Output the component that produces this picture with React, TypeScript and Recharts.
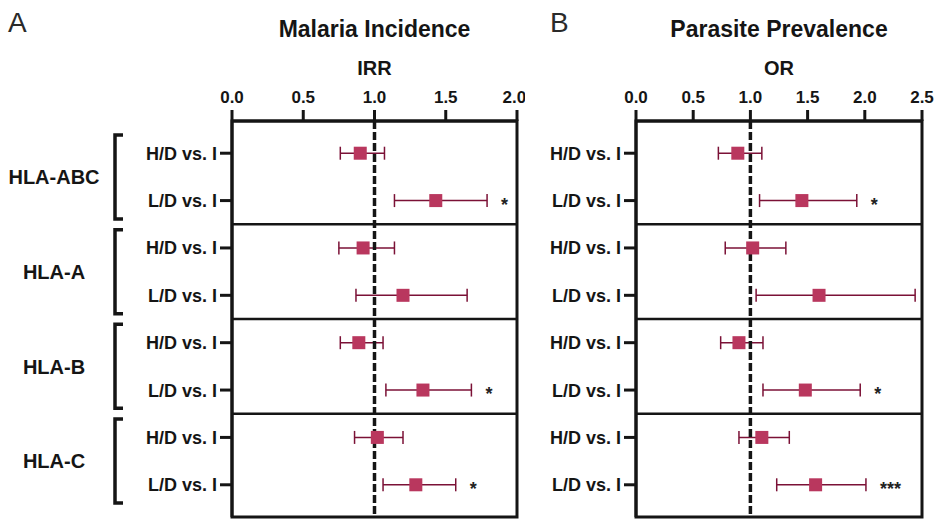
import React from 'react';
import {
  ScatterChart,
  Scatter,
  XAxis,
  YAxis,
  ErrorBar,
  ReferenceLine,
  ReferenceArea,
  Label,
} from 'recharts';

// rows, top to bottom
const rowLabels = [
  'H/D vs. I', 'L/D vs. I',
  'H/D vs. I', 'L/D vs. I',
  'H/D vs. I', 'L/D vs. I',
  'H/D vs. I', 'L/D vs. I',
];
const groupLabels = ['HLA-ABC', 'HLA-A', 'HLA-B', 'HLA-C'];

// A: malaria incidence (IRR)
const irrEstimate = [0.9, 1.43, 0.92, 1.2, 0.89, 1.34, 1.02, 1.29];
const irrLower = [0.76, 1.14, 0.75, 0.87, 0.76, 1.08, 0.86, 1.06];
const irrUpper = [1.07, 1.79, 1.14, 1.65, 1.06, 1.68, 1.2, 1.57];
const irrSig = ['', '*', '', '', '', '*', '', '*'];
const irrTicks = [0, 0.5, 1, 1.5, 2];

// B: parasite prevalence (OR)
const orEstimate = [0.89, 1.45, 1.02, 1.6, 0.9, 1.48, 1.1, 1.57];
const orLower = [0.72, 1.08, 0.78, 1.05, 0.74, 1.11, 0.9, 1.23];
const orUpper = [1.1, 1.93, 1.31, 2.44, 1.11, 1.96, 1.34, 2.01];
const orSig = ['', '*', '', '', '', '*', '', '***'];
const orTicks = [0, 0.5, 1, 1.5, 2, 2.5];

const FONT = '"Liberation Sans", Arial, Helvetica, sans-serif';
const INK = '#151515';
const PLOT_TOP = 121;
const PLOT_BOTTOM = 517;
const Y_MIN = -0.68;
const Y_MAX = 7.68;
const ROW_PX = (PLOT_BOTTOM - PLOT_TOP) / (Y_MAX - Y_MIN);

function buildRows(est: number[], lo: number[], hi: number[], sig: string[]) {
  return est.map((v, i) => ({
    x: v,
    y: i,
    err: [v - lo[i], hi[i] - v],
    hi: hi[i],
    sig: sig[i],
  }));
}

const Square = (p: any) => (
  <rect x={p.cx - 6.5} y={p.cy - 6.5} width={13} height={13} fill="#b9375e" />
);

const Stars = (p: any) => (
  <text x={p.cx + 14} y={p.cy + 10} fontSize={18} fontWeight={700} fill="#222">
    {p.payload.sig}
  </text>
);

function RowTick(props: any) {
  const { x, y, payload, showGroups } = props;
  const i = payload.value as number;
  const groupMid = y + ROW_PX / 2;
  const bx = x - 102;
  return (
    <g>
      <text x={x} y={y} dy="0.36em" textAnchor="end" fontSize={18} fontWeight={700} fill={INK}>
        {rowLabels[i]}
      </text>
      {showGroups && i % 2 === 0 && (
        <g>
          <path
            d={`M${bx + 8},${groupMid - 42} H${bx} V${groupMid + 42} H${bx + 8}`}
            fill="none"
            stroke={INK}
            strokeWidth={3.5}
          />
          <text
            x={x - 163}
            y={groupMid}
            dy="0.36em"
            textAnchor="middle"
            fontSize={20}
            fontWeight={700}
            fill={INK}
          >
            {groupLabels[i / 2]}
          </text>
        </g>
      )}
    </g>
  );
}

type PanelProps = {
  left: number;
  width: number;
  yWidth: number;
  marginRight: number;
  max: number;
  ticks: number[];
  axisLabel: string;
  title: string;
  rows: ReturnType<typeof buildRows>;
  showGroups: boolean;
};

function ForestPanel({ left, width, yWidth, marginRight, max, ticks, axisLabel, title, rows, showGroups }: PanelProps) {
  const starred = rows.filter((r) => r.sig);
  return (
    <div style={{ position: 'absolute', left, top: 0 }}>
      <ScatterChart
        width={width}
        height={519}
        margin={{ top: PLOT_TOP - 40, right: marginRight, bottom: 519 - PLOT_BOTTOM, left: 0 }}
      >
        <XAxis
          type="number"
          dataKey="x"
          orientation="top"
          height={40}
          domain={[0, max]}
          allowDataOverflow
          ticks={ticks}
          tickFormatter={(v: number) => v.toFixed(1)}
          tickSize={11}
          tickMargin={7}
          axisLine={{ stroke: INK, strokeWidth: 3 }}
          tickLine={{ stroke: INK, strokeWidth: 3 }}
          tick={{ fontSize: 17, fontWeight: 700, fill: INK }}
        >
          <Label value={axisLabel} position="top" offset={6} fontSize={20} fontWeight={700} fill={INK} />
          <Label value={title} position="top" offset={44} fontSize={23} fontWeight={700} fill={INK} />
        </XAxis>
        <YAxis
          type="number"
          dataKey="y"
          width={yWidth}
          reversed
          domain={[Y_MIN, Y_MAX]}
          allowDataOverflow
          ticks={[0, 1, 2, 3, 4, 5, 6, 7]}
          tickSize={12}
          tickMargin={3}
          axisLine={{ stroke: INK, strokeWidth: 3 }}
          tickLine={{ stroke: INK, strokeWidth: 3 }}
          tick={(p: any) => <RowTick {...p} showGroups={showGroups} />}
        />
        <ReferenceArea x1={0} x2={max} y1={Y_MIN} y2={Y_MAX} fill="none" stroke={INK} strokeWidth={3} />
        {[1.5, 3.5, 5.5].map((v) => (
          <ReferenceLine key={v} y={v} stroke={INK} strokeWidth={2.5} />
        ))}
        <Scatter data={rows} shape={Square} isAnimationActive={false}>
          <ErrorBar dataKey="err" direction="x" width={6.5} stroke="#7b1136" strokeWidth={1.5} />
        </Scatter>
        <Scatter
          data={starred.map((r) => ({ x: r.hi, y: r.y, sig: r.sig }))}
          shape={Stars}
          isAnimationActive={false}
        />
        <ReferenceLine x={1} stroke={INK} strokeWidth={3.5} strokeDasharray="8 3" />
      </ScatterChart>
    </div>
  );
}

const panelLetter = (text: string, left: number) => (
  <div
    style={{
      position: 'absolute',
      left,
      top: 9,
      fontSize: 28,
      lineHeight: '28px',
      color: '#2a2a2a',
    }}
  >
    {text}
  </div>
);

export default function App() {
  return (
    <div
      style={{
        position: 'absolute',
        left: 0,
        top: 0,
        width: 937,
        height: 519,
        background: '#fff',
        fontFamily: FONT,
        overflow: 'hidden',
      }}
    >
      <ForestPanel
        left={0}
        width={525}
        yWidth={232}
        marginRight={8}
        max={2}
        ticks={irrTicks}
        axisLabel="IRR"
        title="Malaria Incidence"
        rows={buildRows(irrEstimate, irrLower, irrUpper, irrSig)}
        showGroups
      />
      <ForestPanel
        left={525}
        width={412}
        yWidth={111}
        marginRight={15}
        max={2.5}
        ticks={orTicks}
        axisLabel="OR"
        title="Parasite Prevalence"
        rows={buildRows(orEstimate, orLower, orUpper, orSig)}
        showGroups={false}
      />
      {panelLetter('A', 8)}
      {panelLetter('B', 550)}
    </div>
  );
}
